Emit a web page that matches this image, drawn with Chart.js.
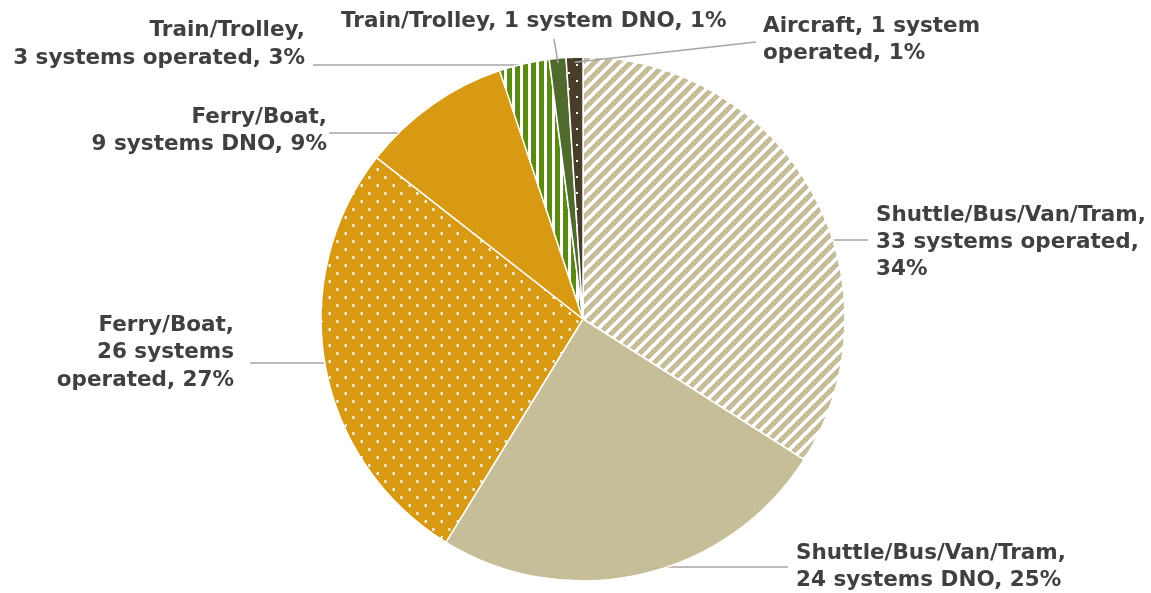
<!DOCTYPE html>
<html>
<head>
<meta charset="utf-8">
<script src="https://cdn.jsdelivr.net/npm/chart.js@4.4.1/dist/chart.umd.min.js"></script>
<style>
  html, body { margin: 0; padding: 0; background: #fff; }
  #wrap { width: 1151px; height: 593px; }
</style>
</head>
<body>
<div id="wrap"><canvas id="pie" width="1151" height="593"></canvas></div>
<script>
// Systems by mode, operated vs. did not operate (DNO)
const modes = ['Shuttle/Bus/Van/Tram', 'Shuttle/Bus/Van/Tram', 'Ferry/Boat', 'Ferry/Boat', 'Train/Trolley', 'Train/Trolley', 'Aircraft'];
const statuses = ['operated', 'DNO', 'operated', 'DNO', 'operated', 'DNO', 'operated'];
const systemCounts = [33, 24, 26, 9, 3, 1, 1];

const total = systemCounts.reduce((a, b) => a + b, 0);

// label text: "<mode>, <n> systems <status>, <pct>%"
function labelWords(i) {
    const n = systemCounts[i];
    const pct = Math.round(n / total * 100);
    const text = `${modes[i]}, ${n} ${n === 1 ? 'system' : 'systems'} ${statuses[i]}, ${pct}%`;
    return text.split(' ');
}

// where each label sits and how its leader line runs
// 'h' = horizontal line that stops at the pie rim, 'p' = line into the slice
const labelLayout = [
    { x: 876, y: 215, lh: 27, align: 'left',  words: [1, 3, 1], leader: { type: 'h', y: 240, x: 868 } },
    { x: 796, y: 553, lh: 27, align: 'left',  words: [1, 4],    leader: { type: 'h', y: 567, x: 788 } },
    { x: 234, y: 325, lh: 27.5, align: 'right', words: [1, 2, 2], leader: { type: 'h', y: 363, x: 250 } },
    { x: 327, y: 117, lh: 27, align: 'right', words: [1, 4],    leader: { type: 'h', y: 133, x: 329 } },
    { x: 305, y: 30,  lh: 28, align: 'right', words: [1, 4],    leader: { type: 'h', y: 65,  x: 313 } },
    { x: 341, y: 21,  lh: 27, align: 'left',  words: [5],       leader: { type: 'p', x: 554, y: 39 } },
    { x: 763, y: 26,  lh: 27, align: 'left',  words: [3, 2],    leader: { type: 'p', x: 756, y: 42 } }
];

function makePattern(size, bg, paint) {
    const c = document.createElement('canvas');
    c.width = size; c.height = size;
    const g = c.getContext('2d');
    g.fillStyle = bg;
    g.fillRect(0, 0, size, size);
    g.fillStyle = '#ffffff';
    paint(g, size);
    return document.getElementById('pie').getContext('2d').createPattern(c, 'repeat');
}

const tan = '#C5BE98';
const gold = '#D89A13';

const fills = [
    // wide upward diagonal
    makePattern(12, tan, (g, s) => {
        for (let y = 0; y < s; y++)
            for (let x = 0; x < s; x++)
                if ((x + y) % s < 5) g.fillRect(x, y, 1, 1);
    }),
    tan,
    // small confetti
    makePattern(16, gold, (g) => {
        g.fillRect(0, 0, 2, 1); g.fillRect(1, 1, 2, 1); g.fillRect(0, 2, 2, 1);
        g.fillRect(9, 8, 2, 1); g.fillRect(8, 9, 2, 1); g.fillRect(9, 10, 2, 1);
    }),
    gold,
    // vertical stripes
    makePattern(8, '#5A8A14', (g, s) => { g.fillRect(0, 0, 3, s); }),
    '#4F6A2C',
    // sparse dots
    makePattern(16, '#473D29', (g) => { g.fillRect(0, 0, 2, 2); g.fillRect(8, 8, 2, 2); })
];

function leaderEnd(p, L) {
    if (L.type === 'h') {
        const dy = L.y - p.y;
        const dx = Math.sqrt(Math.max(p.outerRadius * p.outerRadius - dy * dy, 0));
        return [L.x > p.x ? p.x + dx : p.x - dx, L.y];
    }
    const mid = (p.startAngle + p.endAngle) / 2;
    const r = p.outerRadius - 5;
    return [p.x + Math.cos(mid) * r, p.y + Math.sin(mid) * r];
}

function drawLeaders(chart, type) {
    const ctx = chart.ctx;
    const arcs = chart.getDatasetMeta(0).data;
    ctx.save();
    ctx.strokeStyle = '#A6A6A6';
    ctx.lineWidth = 1.5;
    arcs.forEach((arc, i) => {
        const L = labelLayout[i].leader;
        if (L.type !== type) return;
        const p = arc.getProps(['x', 'y', 'startAngle', 'endAngle', 'outerRadius'], true);
        const [x2, y2] = leaderEnd(p, L);
        ctx.beginPath();
        ctx.moveTo(L.x, L.y);
        ctx.lineTo(x2, y2);
        ctx.stroke();
    });
    ctx.restore();
}

const leaderLabels = {
    id: 'leaderLabels',
    beforeDatasetsDraw(chart) {
        drawLeaders(chart, 'h');
    },
    afterDatasetsDraw(chart) {
        drawLeaders(chart, 'p');
        const ctx = chart.ctx;
        ctx.save();
        ctx.font = 'bold 21.5px "DejaVu Sans"';
        ctx.textBaseline = 'middle';
        ctx.fillStyle = '#404040';
        labelLayout.forEach((lay, i) => {
            const words = labelWords(i);
            ctx.textAlign = lay.align;
            let k = 0;
            lay.words.forEach((cnt, li) => {
                const line = words.slice(k, k + cnt).join(' ');
                k += cnt;
                ctx.fillText(line, lay.x, lay.y + li * lay.lh);
            });
        });
        ctx.restore();
    }
};

new Chart(document.getElementById('pie'), {
    type: 'pie',
    data: {
        labels: modes,
        datasets: [{
            data: systemCounts,
            backgroundColor: fills,
            borderColor: '#ffffff',
            borderWidth: 1.5,
            hoverOffset: 0
        }]
    },
    options: {
        responsive: false,
        animation: false,
        events: [],
        radius: 262,
        layout: { padding: { left: 321, right: 306, top: 57, bottom: 12 } },
        plugins: {
            legend: { display: false },
            tooltip: { enabled: false }
        }
    },
    plugins: [leaderLabels]
});
</script>
</body>
</html>
